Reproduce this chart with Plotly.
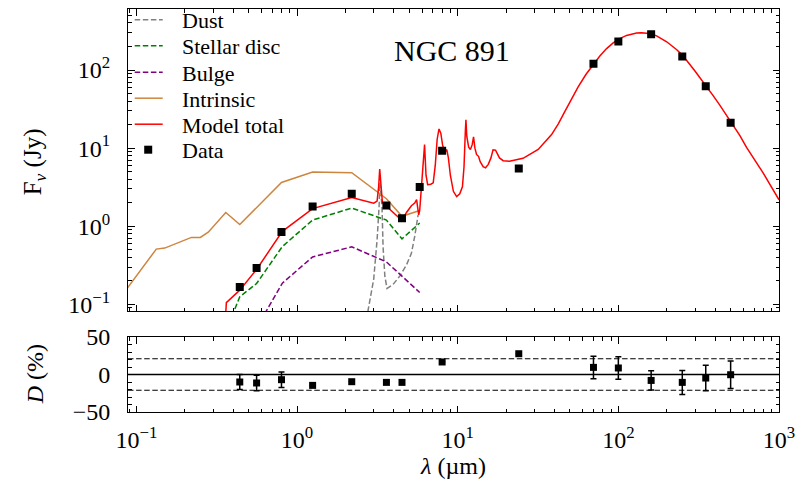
import plotly.graph_objects as go

# ---------------- data ----------------
data_wl = [0.44, 0.56, 0.80, 1.25, 2.19, 3.6, 4.5, 5.8, 8.0, 24, 70, 100, 160, 250, 350, 500]
data_flux = [0.167, 0.292, 0.843, 1.79, 2.61, 1.85, 1.27, 3.18, 9.27, 5.5, 120, 232, 286, 149, 62, 21.1]

res_wl = [0.44, 0.56, 0.80, 1.25, 2.19, 3.6, 4.5, 8.0, 24, 70, 100, 160, 250, 350, 500]
res_val = [-10, -11.3, -6.9, -14.5, -9.6, -10.5, -10.5, 16.7, 27.7, 9.5, 8.7, -7.9, -10.5, -4.7, -0.3]
res_err = [10, 10.3, 10.4, None, None, None, None, None, None, 15, 15, 12.9, 16, 16.9, 18.2]
res_threshold = 21

comp_wl = [0.36, 0.44, 0.56, 0.81, 1.25, 2.19, 3.6, 4.5, 5.8]
disc_flux = [0.045, 0.125, 0.185, 0.55, 1.2, 1.71, 1.2, 0.69, 1.1]
bulge_flux = [0.002, 0.01, 0.05, 0.187, 0.405, 0.545, 0.35, 0.23, 0.142]

intr_wl = [0.08, 0.133, 0.15, 0.22, 0.25, 0.28, 0.36, 0.44, 0.80, 1.25, 2.19, 3.6, 4.5, 5.8]
intr_flux = [0.125, 0.51, 0.525, 0.72, 0.72, 0.84, 1.5, 1.05, 3.64, 4.94, 4.84, 2.25, 1.34, 1.59]

dust_wl = [2.7, 2.77, 3.0, 3.15, 3.24, 3.285, 3.38, 3.43, 3.52, 3.63, 3.96, 4.36, 4.8, 5.15, 5.4, 5.59, 5.67]
dust_flux = [0.05, 0.085, 0.21, 0.67, 1.78, 3.6, 1.78, 0.55, 0.23, 0.16, 0.18, 0.23, 0.32, 0.45, 0.74, 1.2, 1.4]

model_wl = [0.34, 0.363, 0.44, 0.56, 0.81, 1.25, 2.19, 3.0, 3.15, 3.22, 3.27, 3.32, 3.40, 3.6,
            4.5, 4.8, 5.15, 5.4, 5.55, 5.62, 5.72, 5.8, 5.95, 6.1, 6.22, 6.35, 6.5, 6.8, 7.04,
            7.25, 7.45, 7.65, 7.85, 8.05, 8.3, 8.55, 8.75, 9.0, 9.4, 9.85, 10.3, 10.7, 10.95,
            11.15, 11.25, 11.4, 11.7, 12.0, 12.3, 12.55, 12.8, 13.1, 13.5, 13.8, 14.4, 14.9,
            15.5, 16.1, 16.6, 17.2, 17.7, 18.2, 19.2, 21, 25.5, 31.7, 38.4, 42.2, 46.4, 51.2,
            56.2, 62.8, 69.7, 76.7, 84.5, 92.9, 102, 112.5, 130, 139, 150, 161, 173, 200, 231,
            251, 299, 354, 389, 428, 507, 571, 628, 798, 1000]
model_flux = [0.01, 0.105, 0.152, 0.28, 0.86, 1.68, 2.33, 1.97, 2.1, 3.2, 5.4, 3.2, 2.0, 1.8,
              1.18, 1.5, 1.83, 1.98, 2.2, 1.8, 1.4, 1.6, 3.5, 7.0, 11.1, 4.5, 3.4, 3.45, 3.6,
              6.0, 13, 17.6, 15.5, 11, 8.7, 9.6, 7.5, 4.5, 2.8, 2.4, 2.6, 3.2, 5.8,
              16, 23, 14, 10.3, 9.6, 11, 13.9, 10, 8.3, 7.8, 6.7, 5.8, 5.6,
              6.2, 7.5, 9.5, 9.4, 8.2, 7.5, 6.9, 6.8, 7.4, 9.6, 14.9, 20.3, 29.4, 42.8,
              60.8, 87.5, 118, 151, 188, 222, 252, 277, 297, 300, 296, 290, 274, 230, 182,
              154, 98, 62, 47, 35.5, 21, 14.5, 10.2, 4.8, 2.18]

major_x = [0.1, 1, 10, 100, 1000]
major_x_text = ["10<sup>−1</sup>", "10<sup>0</sup>", "10<sup>1</sup>", "10<sup>2</sup>", "10<sup>3</sup>"]
major_y = [0.1, 1, 10, 100]
major_y_text = ["10<sup>−1</sup>", "10<sup>0</sup>", "10<sup>1</sup>", "10<sup>2</sup>"]
res_ticks = [-50, 0, 50]
res_ticks_text = ["−50", "0", "50"]

legend_names = ["Dust", "Stellar disc", "Bulge", "Intrinsic", "Model total", "Data"]
legend_colors = ["grey", "green", "purple", "peru", "red", "black"]

minor_x = [m * 10 ** e for e in range(-2, 3) for m in range(2, 10)]
minor_y = [m * 10 ** e for e in range(-2, 3) for m in range(2, 10)]

FONT = "Liberation Serif"
DASH = "5.5px,2.6px"

# ---------------- geometry (pixels of the reference) ----------------
W, H = 805, 495
L, R, T, B = 128.3, 779.0, 9.3, 412.3
pw, ph = R - L, B - T


def px(x):
    return (x - L) / pw


def py(y):
    return (B - y) / ph


top_bottom = py(311.7)
res_top = py(337.3)

fig = go.Figure()
styles = [dict(dash=DASH), dict(dash=DASH), dict(dash=DASH), dict(), dict()]
series = [(dust_wl, dust_flux), (comp_wl, disc_flux), (comp_wl, bulge_flux),
          (intr_wl, intr_flux), (model_wl, model_flux)]
for (xs, ys), name, col, st in zip(series, legend_names, legend_colors, styles):
    fig.add_trace(go.Scatter(x=xs, y=ys, mode="lines", name=name, showlegend=False,
                             line=dict(color=col, width=1.5, **st)))
fig.add_trace(go.Scatter(x=data_wl, y=data_flux, mode="markers", name="Data", showlegend=False,
                         marker=dict(symbol="square", size=8, color="black",
                                     line=dict(width=0))))

fig.add_trace(go.Scatter(x=res_wl, y=res_val, mode="markers", showlegend=False,
                         xaxis="x2", yaxis="y2",
                         marker=dict(symbol="square", size=7, color="black", line=dict(width=0)),
                         error_y=dict(type="data", array=res_err, color="black",
                                      thickness=1.5, width=3)))

axis_common = dict(showgrid=False, zeroline=False, showline=True, linecolor="black",
                   linewidth=1, ticks="inside", mirror="allticks", ticklen=6.5, tickwidth=1,
                   tickcolor="black", automargin=False, tickfont=dict(family=FONT, size=24))
minor_log_x = dict(tickmode="array", tickvals=minor_x, ticks="inside", ticklen=3.5,
                   tickcolor="black", showgrid=False)
minor_log_y = dict(tickmode="array", tickvals=minor_y, ticks="inside", ticklen=3.5,
                   tickcolor="black", showgrid=False)

fig.update_layout(
    width=W, height=H,
    margin=dict(l=L, r=W - R, t=T, b=H - B),
    paper_bgcolor="white", plot_bgcolor="white",
    font=dict(family=FONT, size=24, color="black"),
    showlegend=False,
    xaxis=dict(axis_common, type="log", range=[-1.0523, 3], domain=[0, 1], anchor="y",
               tickmode="array", tickvals=major_x, ticktext=major_x_text, showticklabels=False,
               minor=minor_log_x),
    yaxis=dict(axis_common, type="log", range=[-1.09, 2.781], domain=[top_bottom, 1], anchor="x",
               tickmode="array", tickvals=major_y, ticktext=major_y_text, ticklabelstandoff=12,
               minor=minor_log_y),
    xaxis2=dict(axis_common, type="log", range=[-1.0523, 3], domain=[0, 1], anchor="y2",
                tickmode="array", tickvals=major_x, ticktext=major_x_text,
                ticklabelstandoff=6,
                title=dict(text="<i>λ</i> (µm)", standoff=2, font=dict(family=FONT, size=24)),
                minor=minor_log_x),
    yaxis2=dict(axis_common, range=[-50, 50], domain=[0, res_top], anchor="x2",
                tickmode="array", tickvals=res_ticks, ticktext=res_ticks_text,
                ticklabelstandoff=12,
                minor=dict(dtick=10, ticks="inside", ticklen=3.5, tickcolor="black",
                           showgrid=False)),
)

# residual reference lines
fig.add_shape(type="line", xref="x2 domain", yref="y2", x0=0, x1=1, y0=0, y1=0,
              line=dict(color="black", width=1.5))
for s in (1, -1):
    fig.add_shape(type="line", xref="x2 domain", yref="y2", x0=0, x1=1,
                  y0=s * res_threshold, y1=s * res_threshold,
                  line=dict(color="black", width=1.2, dash=DASH))

# legend (drawn by hand to match the reference spacing)
rows_y = [20, 46, 72.5, 98.5, 124.5, 150]
line_x0, line_x1, text_x = 135, 163, 180
for i, (name, col, yy) in enumerate(zip(legend_names, legend_colors, rows_y)):
    if name == "Data":
        fig.add_shape(type="rect", xref="paper", yref="paper",
                      x0=px(144.5), x1=px(152.5), y0=py(yy + 4), y1=py(yy - 4),
                      fillcolor="black", line=dict(width=0))
    else:
        fig.add_shape(type="line", xref="paper", yref="paper",
                      x0=px(line_x0), x1=px(line_x1), y0=py(yy), y1=py(yy),
                      line=dict(color=col, width=1.5, dash=DASH if i < 3 else "solid"))
    fig.add_annotation(text=name, xref="paper", yref="paper", x=px(text_x), y=py(yy + 1),
                       xanchor="left", yanchor="middle", showarrow=False,
                       font=dict(family=FONT, size=22))

fig.add_annotation(text="NGC 891", xref="paper", yref="paper", x=px(452), y=py(51),
                   xanchor="center", yanchor="middle", showarrow=False,
                   font=dict(family=FONT, size=30))
fig.add_annotation(text="F<sub><i>ν</i></sub> (Jy)", xref="paper", yref="paper",
                   x=px(35), y=py(162), xanchor="center", yanchor="middle",
                   textangle=-90, showarrow=False, font=dict(family=FONT, size=25))
fig.add_annotation(text="<i>D</i> (%)", xref="paper", yref="paper",
                   x=px(35), y=py(375), xanchor="center", yanchor="middle",
                   textangle=-90, showarrow=False, font=dict(family=FONT, size=24))

fig.write_html("out.html")
